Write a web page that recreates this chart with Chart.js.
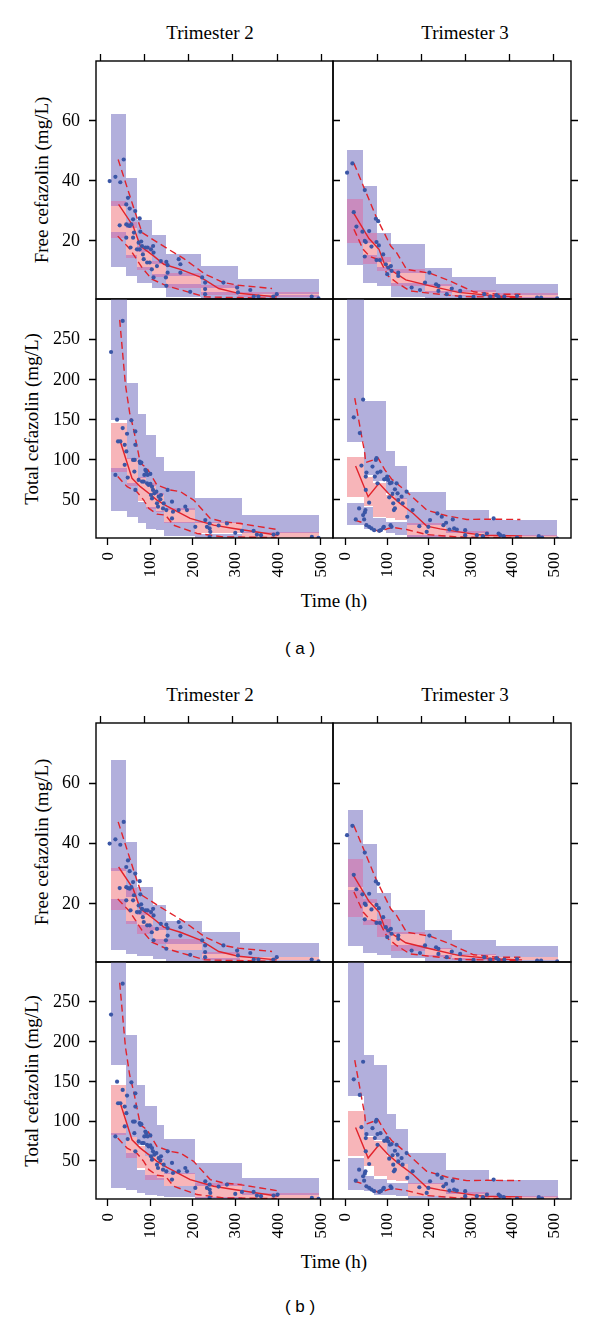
<!DOCTYPE html>
<html>
<head>
<meta charset="utf-8">
<script src="https://cdn.jsdelivr.net/npm/chart.js@4.4.0/dist/chart.umd.min.js"></script>
<style>
  body { margin: 0; background: #fff; width: 600px; height: 1324px; position: relative; overflow: hidden; }
  canvas { position: absolute; }
  .t { position: absolute; white-space: nowrap; color: #000; font-family: 'Liberation Serif', serif; font-size: 19px; line-height: 1; transform: translate(-50%, -50%); }
  .r { transform: translate(-50%, -50%) rotate(-90deg); }
  .cap { font-family: 'Liberation Sans', sans-serif; font-size: 17px; }
</style>
</head>
<body>
<div class="t" style="left:210px;top:32px">Trimester 2</div>
<div class="t" style="left:465px;top:32px">Trimester 3</div>
<div class="t r" style="left:41px;top:180px">Free cefazolin (mg/L)</div>
<div class="t r" style="left:31px;top:419px">Total cefazolin (mg/L)</div>
<div class="t" style="left:334px;top:600px">Time (h)</div>
<div class="t cap" style="left:300px;top:648px">( a )</div>

<div class="t" style="left:210px;top:694px">Trimester 2</div>
<div class="t" style="left:465px;top:694px">Trimester 3</div>
<div class="t r" style="left:41px;top:842px">Free cefazolin (mg/L)</div>
<div class="t r" style="left:31px;top:1081px">Total cefazolin (mg/L)</div>
<div class="t" style="left:334px;top:1261px">Time (h)</div>
<div class="t cap" style="left:300px;top:1306px">( b )</div>

<script>
// tick values
const xTicks = [0, 100, 200, 300, 400, 500];
const freeTicks = [20, 40, 60];
const totalTicks = [50, 100, 150, 200, 250];

// observed concentrations [time h, mg/L]
const t2FreeObs = [[6,39.7],[19.5,41.1],[31,39.3],[39,46.9],[49,34.1],[45,31.9],[53,30.5],[61,26.9],[66,29.7],[76.5,27.2],[29.6,24.9],[45,25.2],[49,24.9],[53,24.7],[57,25.2],[63,22.5],[45,20.8],[61,20.8],[78,22.8],[80,19.5],[74,19.1],[55,17.5],[70,16.9],[76.5,16.9],[82,18],[90,17.5],[95,17.5],[103,16.9],[108,18],[109,15.8],[84,15.2],[86,13.6],[94,12.5],[100,12.5],[105,10.2],[109,7.5],[117,11.3],[126,13],[139,12.7],[142,11.6],[142,9.1],[138,7.5],[139,4.7],[168,13.6],[172,11.9],[172,9.1],[195,2.7],[223,7.5],[230,5.8],[230,3.6],[230,1.9],[273,5.8],[305,4.1],[307,2.5],[336,3.3],[344,1.1],[355,1.1],[390,1.1],[398,1.9],[480,1.1],[496,0.5]];
const t3FreeObs = [[5.6,42.5],[18.4,45.6],[21.6,29.3],[28,24.5],[42.4,22.8],[48,36.7],[48,19.7],[50.4,19.3],[48,14.5],[58.4,23],[64,17.8],[74.4,27.1],[76,19.3],[76,13.3],[80,26.3],[81.6,18.2],[84,13.3],[92,15.2],[98.4,11.9],[101.6,8.6],[104,10.8],[110.4,11.3],[112,9.7],[128,9.1],[128,8],[160,4.1],[180,3.3],[192,5.8],[202.4,9.1],[218.4,5.2],[224,4.7],[224,3],[244,1.9],[256,3.8],[276,3],[276,1],[308,1],[333.6,1.9],[348,1.1],[362.4,1.6],[368,1],[381.6,1.1],[412,1.3],[460,0.8],[469.6,0.8],[508,0.5]];
const t2TotalObs = [[9.3,233.4],[36.6,272.2],[23.4,149],[25.7,121.9],[31.2,121.9],[36.6,138.6],[41.3,117.7],[46.8,131.5],[45.2,109.4],[41.3,92.7],[19.5,80.2],[48.4,76.8],[57,148.2],[60.9,98.9],[64,84.3],[66.3,61.4],[66.3,134.4],[66.3,117.7],[64.8,98.9],[76.5,96.8],[78,94.8],[80.4,95.6],[74.1,73.9],[82,71.8],[85.9,71.8],[87.4,80.2],[89.8,86.4],[92.1,84.3],[93.7,69.7],[97.6,67.6],[101.5,68.9],[95.2,80.2],[101.5,81.4],[105.4,65.5],[107.7,61.4],[103,55.1],[105.4,50.9],[110.9,57.2],[115.6,59.3],[117.1,44.7],[119.5,40.5],[121,53],[125,49.7],[126.5,55.1],[131.2,38.4],[132.7,44.7],[139,36.3],[142.1,61.4],[152.3,46.8],[152.3,25.9],[154.6,34.2],[168,36.3],[183.5,40.5],[187.4,36.3],[207,15.4],[230.4,23.8],[234.3,15.4],[240.6,19.6],[240.6,13.4],[242.1,9.2],[240.6,2.9],[261.6,17.1],[281.2,19.6],[300.7,7.9],[316.3,10.4],[343.7,10.4],[351.5,5.8],[361,5],[390.5,5.8],[400,7.1],[480.4,2.9],[496,1.7]];
const t3TotalObs = [[21.6,152],[26.4,24.6],[36,132.3],[34.4,38.4],[44,174.1],[40,91.8],[44,30.1],[46.4,24.6],[48,33.4],[49.6,36.3],[50.4,78.1],[50.4,61.4],[52,83.1],[52,17.5],[58.4,45.5],[58.4,15.4],[64,13.4],[66.4,90.6],[70.4,11.3],[72,78.1],[74.4,98.9],[76,101],[78.4,83.1],[78.4,69.7],[82.4,10.4],[85.6,84.3],[86.4,11.3],[92,14.2],[93.6,15.4],[94.4,74.7],[98.4,75.1],[101.6,78.1],[104,73.9],[106.4,52.2],[108,69.7],[109.6,17.5],[112,15.4],[112,70.5],[114.4,56.4],[116,44.7],[117.6,36.3],[120,38.4],[120,62.2],[124,69.7],[126.4,57.2],[128,48.8],[136,53],[138.4,44.7],[148,59.3],[149.6,28],[162.4,36.3],[178.4,16.3],[196,9.2],[200,15.4],[204,23.8],[221.6,32.1],[232,28],[236,17.5],[242.4,20.5],[250.4,12.1],[258.4,24.6],[261.6,13.4],[268,12.1],[288,11.3],[288,5],[316,5],[330.4,3.8],[340,7.1],[356,25.9],[368,7.1],[372,5],[380,3.8],[412,2.1],[464,3.8],[472,2.1],[508,0.8]];

// observed percentiles (median solid, 5th/95th dashed)
const t2FreeMedian = [[27,31.9],[61,24.7],[78,18],[109,14.7],[133,11.9],[172,10.2],[219,7.6],[262,3.8],[308,2.2],[398,1.0]];
const t2FreeP95 = [[26,46.9],[65,29.6],[82,22.5],[117,19.3],[144,16.9],[180,13.8],[230,8.6],[273,5.8],[308,4.9],[387,3.8]];
const t2FreeP05 = [[25,21.3],[53,17.1],[82,10.8],[105,6.9],[140,4.7],[230,1.0],[398,0.5]];
const t3FreeMedian = [[20,29.3],[58,20.5],[82,16.9],[96,11.6],[110,10],[146,6.7],[204,4.7],[272,2.5],[364,1.3],[424,1.0]];
const t3FreeP95 = [[22,45.6],[76,27.5],[110,18],[124,15.8],[148,10.2],[204,8.9],[252,6.3],[308,2.7],[364,1.9],[420,1.9]];
const t3FreeP05 = [[22,23.6],[44,16.9],[60,14.5],[84,13.3],[104,8],[124,5.8],[156,3],[204,2.2],[284,1.1],[420,0.8]];
const t2TotalMedian = [[31,121.9],[58.5,75.9],[78,65.5],[100,56.3],[117,48.8],[140.5,41.3],[195,25.9],[250,17.5],[297,13.4],[402,5]];
const t2TotalP95 = [[29.6,273.4],[43,192.9],[53,157.4],[62.4,136.5],[78,94.8],[93.7,88.5],[117,67.6],[148,61.4],[172,59.3],[203,48.8],[242,25.9],[273,21.7],[312,19.6],[398,12.1]];
const t2TotalP05 = [[25,78.1],[47,65.5],[70,59.1],[86,48.8],[98,38.4],[117,31.3],[137,30.1],[156,17.5],[211,7.1],[273,2.9],[398,2.1]];
const t3TotalMedian = [[26,91.4],[56,53],[82,69.7],[104,57.2],[132,44.7],[164,32.1],[196,16.3],[228,12.9],[288,7.9],[332,5],[424,4.2]];
const t3TotalP95 = [[24,176],[48,107],[50,95.6],[80,101],[96,86.4],[112,75.1],[148,59.3],[196,36.3],[244,29.2],[292,24.6],[340,25],[420,24.6]];
const t3TotalP05 = [[24,23.8],[44,20.5],[64,13.4],[84,9.2],[104,13.4],[116,14.6],[148,12.1],[196,5.8],[268,2.9],[324,2.1],[424,2.1]];

// simulated CIs per bin: [t0, t1, p5 lo, p5 hi, median lo, median hi, p95 lo, p95 hi]
const binsAT2Free = [[9.4,45.2,11,22.7,20.8,33,31.3,62],[45.2,70.3,8,15,14,26,24,40.6],[70.3,106,5.8,11,10,18,16,26.6],[106,139,4.1,8.5,7.5,13,12,21.6],[139,221,1,5.2,4.1,9.1,7.9,15.2],[221,307,0,2.5,1.8,5,4,11.3],[307,496,0,1.5,1,2.7,2,7.1]];
const binsAT3Free = [[6.4,44,11.6,34,19.1,33.6,19,50.2],[44,76,5.6,15,12,22.4,19,38.2],[76,110,4.7,11,9.7,14.4,12.5,22.4],[110,192,1.1,5.8,4.7,10.2,9,18.6],[192,256,0,3,2.2,5.3,4.5,10.8],[256,362,0,1.8,1.2,3.2,2.7,7.8],[362,510,0,1,0.6,2.4,1.8,5.3]];
const binsAT2Total = [[10,46.8,35.5,88.5,84.3,145,149,330],[46.8,71.8,28,70,66,101,100,195],[71.8,92.1,19.6,46,48,78,76,156],[92.1,115.6,12.5,40,38,70,66,129.4],[115.6,132.7,11.3,35,34,58,55,103],[132.7,207,4.2,22,20.5,38.4,36,85.6],[207,316,0,7,8,22,20,51],[316,496,0,2,1,9.2,8,30]];
const binsAT3Total = [[6.4,45.6,17.5,44.7,53,103,121,330],[45.6,68,13,40,42,78,80,172],[68,98.4,12,26,28,70,72,172],[98.4,120,8,21.7,26,55,57,110],[120,149.6,5,22,23.8,51,50,91.8],[149.6,242.4,0.8,5,2.9,19.6,18,58.4],[242.4,344,0,2,1,10,8,36.3],[344,508,0,1,0.5,5,4,23.8]];
const binsBT2Free = [[9.3,45.2,4.4,21.4,17.6,31.5,30.5,67.6],[45.2,70.2,2.8,14,13,25,22,40.1],[70.2,107.8,2.2,12.5,9.7,17.6,16,25.4],[107.8,139,1.4,8,6.4,12,11,19.2],[139,222.6,0,4.2,4.2,8.1,6.4,14],[222.6,311,0,1.5,0.8,3.6,3,10.3],[311,496,0,1,1,2.1,1.8,6.6]];
const binsBT3Free = [[8,44,5.6,24.3,15.3,34.6,25.4,51],[44,76,3.3,14.2,12.5,21.4,19.8,39.6],[76,110.4,2.5,14.7,8.6,14.7,8.6,23.1],[110.4,192,1.7,5.8,4.1,10.3,9.5,17.6],[192,256,0,2.5,2,5,4.5,10.9],[256,361.6,0,1.5,1,3,2.5,7.7],[361.6,509.6,0,1,1,2,1.8,5.6]];
const binsBT2Total = [[9.3,45.2,15.2,84,82.3,145.2,170.3,330],[45.2,70.2,13,59,53,80,80,208],[70.2,89.8,8.9,38.5,40,67.6,70,145.2],[89.8,117.1,6.8,32,25.6,55,56,118.7],[117.1,134.3,4.7,28,25,52,50,94.8],[134.3,207,3.9,18,17.3,34,33,76.8],[207,316.3,0,4,3,21,18,46.6],[316.3,498,0,1.5,1,8.8,7,27.7]];
const binsBT3Total = [[8,45.6,12.2,53,55,111.6,131.2,330],[45.6,70.4,11,29.9,42.4,80,81,182.9],[70.4,101.6,6.8,27,30,74,76,170.3],[101.6,121.6,6.8,21,25.6,55,57,108.2],[121.6,152,4.7,22,24,45,46,89.8],[152,242.4,1.3,4.7,4.7,21.5,20,59.2],[242.4,344,0,2,1,10,8,37.4],[344,509.6,0,1,0.5,5,4,25.7]];

const LAV = '#b2afdc', PINK = '#f7b5b9', MAUVE = '#c98bbe', RED = '#e2232b', BLUE = '#3a56a6';
const SERIF = "'Liberation Serif', 'DejaVu Serif', serif";

// axis limits
const xRange = [[-26, 530], [-28, 541]];
const xTopRange = [[-9, 528], [1, 540]];
const yRange = [[0.3, 79.8], [1.5, 299.5]];

// panel frames in the page
const rowEdges = [[61, 299, 538], [723, 962, 1199]];
const colEdges = [96, 333, 571];
const TICK = 7;

// VPC boxes behind the datasets
const vpcBoxes = {
  id: 'vpcBoxes',
  beforeDatasetsDraw(chart, args, opts) {
    const bins = opts.bins;
    if (!bins) return;
    const { ctx, chartArea: a } = chart;
    const xs = chart.scales.x, ys = chart.scales.y;
    ctx.save();
    ctx.beginPath();
    ctx.rect(a.left, a.top, a.width, a.height);
    ctx.clip();
    const box = (t0, t1, c0, c1, col) => {
      if (c1 <= c0) return;
      const px0 = Math.round(xs.getPixelForValue(t0));
      const px1 = Math.round(xs.getPixelForValue(t1));
      const py0 = Math.round(ys.getPixelForValue(c0));
      const py1 = Math.round(ys.getPixelForValue(c1));
      ctx.fillStyle = col;
      ctx.fillRect(px0, py1, px1 - px0, py0 - py1);
    };
    bins.forEach(b => {
      const [t0, t1, l0, l1, m0, m1, h0, h1] = b;
      box(t0, t1, l0, l1, LAV);
      box(t0, t1, h0, h1, LAV);
      box(t0, t1, m0, m1, PINK);
      box(t0, t1, Math.max(m0, l0), Math.min(m1, l1), MAUVE);
      box(t0, t1, Math.max(m0, h0), Math.min(m1, h1), MAUVE);
    });
    ctx.restore();
  }
};

// lattice style frame: box, outward ticks, tick labels from the chart scales
const latticeFrame = {
  id: 'latticeFrame',
  afterDraw(chart, args, o) {
    const { ctx, chartArea: a, scales } = chart;
    const sx = scales.x, sx2 = scales.x2, sy = scales.y;
    const inX = (s, v) => v > s.min && v < s.max;
    const px = (s, v) => Math.round(s.getPixelForValue(v)) + 0.5;
    ctx.save();
    ctx.strokeStyle = '#000';
    ctx.lineWidth = 1.3;
    ctx.beginPath();
    if (o.bottom) xTicks.filter(v => inX(sx, v)).forEach(v => { const p = px(sx, v); ctx.moveTo(p, a.bottom); ctx.lineTo(p, a.bottom + TICK); });
    if (o.top) xTicks.filter(v => inX(sx2, v)).forEach(v => { const p = px(sx2, v); ctx.moveTo(p, a.top); ctx.lineTo(p, a.top - TICK); });
    o.yTicks.filter(v => inX(sy, v)).forEach(v => {
      const p = px(sy, v);
      if (o.left) { ctx.moveTo(a.left, p); ctx.lineTo(a.left - TICK, p); }
      ctx.moveTo(a.right, p); ctx.lineTo(a.right + TICK, p);
    });
    ctx.stroke();
    ctx.lineWidth = 1.4;
    ctx.strokeRect(a.left, a.top, a.width, a.height);

    ctx.fillStyle = '#000';
    if (o.left) {
      ctx.font = '18px ' + SERIF;
      ctx.textAlign = 'right';
      ctx.textBaseline = 'middle';
      o.yTicks.filter(v => inX(sy, v)).forEach(v => ctx.fillText(String(v), a.left - TICK - 9, sy.getPixelForValue(v) + 1));
    }
    if (o.bottom) {
      ctx.font = '17px ' + SERIF;
      ctx.textAlign = 'right';
      ctx.textBaseline = 'middle';
      xTicks.filter(v => inX(sx, v)).forEach(v => {
        ctx.save();
        ctx.translate(sx.getPixelForValue(v) + 1, a.bottom + TICK + 7);
        ctx.rotate(-Math.PI / 2);
        ctx.fillText(String(v), 0, 0);
        ctx.restore();
      });
    }
    ctx.restore();
  }
};

const panels = [
  { fig: 0, row: 0, col: 0, bins: binsAT2Free, obs: t2FreeObs, med: t2FreeMedian, p95: t2FreeP95, p05: t2FreeP05 },
  { fig: 0, row: 0, col: 1, bins: binsAT3Free, obs: t3FreeObs, med: t3FreeMedian, p95: t3FreeP95, p05: t3FreeP05 },
  { fig: 0, row: 1, col: 0, bins: binsAT2Total, obs: t2TotalObs, med: t2TotalMedian, p95: t2TotalP95, p05: t2TotalP05 },
  { fig: 0, row: 1, col: 1, bins: binsAT3Total, obs: t3TotalObs, med: t3TotalMedian, p95: t3TotalP95, p05: t3TotalP05 },
  { fig: 1, row: 0, col: 0, bins: binsBT2Free, obs: t2FreeObs, med: t2FreeMedian, p95: t2FreeP95, p05: t2FreeP05 },
  { fig: 1, row: 0, col: 1, bins: binsBT3Free, obs: t3FreeObs, med: t3FreeMedian, p95: t3FreeP95, p05: t3FreeP05 },
  { fig: 1, row: 1, col: 0, bins: binsBT2Total, obs: t2TotalObs, med: t2TotalMedian, p95: t2TotalP95, p05: t2TotalP05 },
  { fig: 1, row: 1, col: 1, bins: binsBT3Total, obs: t3TotalObs, med: t3TotalMedian, p95: t3TotalP95, p05: t3TotalP05 },
];

const pts = arr => arr.map(([x, y]) => ({ x, y }));

panels.forEach(p => {
  const top = rowEdges[p.fig][p.row], bottom = rowEdges[p.fig][p.row + 1];
  const left = colEdges[p.col], right = colEdges[p.col + 1];
  const isTop = p.row === 0, isBottom = p.row === 1, isLeft = p.col === 0;
  const ML = isLeft ? 95 : 10, MR = 10, MT = 10, MB = isBottom ? 50 : 10;

  const cv = document.createElement('canvas');
  cv.width = right - left + ML + MR;
  cv.height = bottom - top + MT + MB;
  cv.style.left = (left - ML) + 'px';
  cv.style.top = (top - MT) + 'px';
  document.body.appendChild(cv);

  const [xmin, xmax] = xRange[p.col];
  const [x2min, x2max] = xTopRange[p.col];
  const [ymin, ymax] = yRange[p.row];

  const lineDs = (data, dash) => ({
    data: pts(data), showLine: true, borderColor: RED, borderWidth: 1.4,
    borderDash: dash, pointRadius: 0, order: 1
  });

  new Chart(cv, {
    type: 'scatter',
    data: {
      datasets: [
        { data: pts(p.obs), pointRadius: 2.1, pointBackgroundColor: BLUE, pointBorderWidth: 0, order: 0 },
        lineDs(p.med, []),
        lineDs(p.p95, [7, 4]),
        lineDs(p.p05, [7, 4]),
      ]
    },
    options: {
      responsive: false,
      animation: false,
      devicePixelRatio: 1,
      layout: { padding: { left: ML, right: MR, top: MT, bottom: MB }, autoPadding: false },
      plugins: {
        legend: { display: false },
        tooltip: { enabled: false },
        vpcBoxes: { bins: p.bins },
        latticeFrame: { top: isTop, bottom: isBottom, left: isLeft, yTicks: isTop ? freeTicks : totalTicks }
      },
      scales: {
        x: { type: 'linear', display: false, min: xmin, max: xmax },
        x2: { type: 'linear', display: false, min: x2min, max: x2max },
        y: { type: 'linear', display: false, min: ymin, max: ymax }
      }
    },
    plugins: [vpcBoxes, latticeFrame]
  });
});
</script>
</body>
</html>
